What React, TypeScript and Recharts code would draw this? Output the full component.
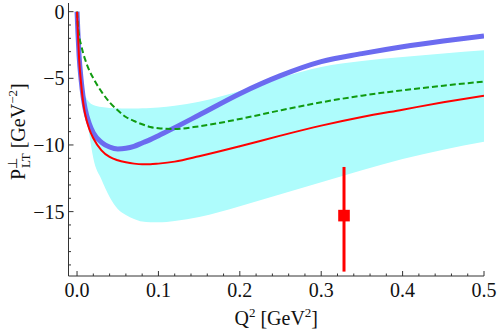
import {
  Area,
  ComposedChart,
  ErrorBar,
  Line,
  Scatter,
  XAxis,
  YAxis,
} from "recharts";

// Q^2 grid (GeV^2)
const q2 = [
  0, 0.001, 0.0025, 0.005, 0.0075, 0.01, 0.015, 0.02, 0.03, 0.04, 0.05, 0.06,
  0.07, 0.08, 0.09, 0.1, 0.12, 0.15, 0.2, 0.25, 0.3, 0.35, 0.4, 0.45, 0.5,
];
const redCurve = [
  0, -1.6, -3.5, -5.4, -6.8, -7.7, -8.8, -9.5, -10.4, -10.9, -11.15, -11.3,
  -11.4, -11.45, -11.45, -11.4, -11.25, -10.85, -10.1, -9.3, -8.55, -7.9,
  -7.35, -6.8, -6.3,
];
const blueCurve = [
  0, -1.5, -3.3, -5.1, -6.4, -7.3, -8.4, -9.1, -9.8, -10.15, -10.3, -10.25,
  -10.1, -9.85, -9.6, -9.3, -8.7, -7.75, -6.15, -4.8, -3.75, -3.15, -2.63,
  -2.2, -1.82,
];
const greenCurve = [
  0, -1.0, -1.8, -2.5, -3.1, -3.6, -4.4, -5.0, -6.0, -6.8, -7.4, -7.9, -8.2,
  -8.45, -8.65, -8.75, -8.8, -8.6, -8.05, -7.4, -6.8, -6.3, -5.9, -5.55,
  -5.25,
];
const bandLow = [
  null, null, null, null, null, -7.2, -9.2, -11.0, -12.6, -13.9, -14.8,
  -15.25, -15.55, -15.75, -15.8, -15.8, -15.7, -15.4, -14.6, -13.7, -12.8,
  -11.9, -11.05, -10.35, -9.75,
];
const bandHigh = [
  null, null, null, null, null, -6.3, -6.8, -7.0, -7.15, -7.22, -7.25, -7.27,
  -7.27, -7.25, -7.22, -7.18, -7.05, -6.75, -5.95, -4.95, -4.15, -3.7, -3.4,
  -3.13, -2.9,
];

// experimental point with asymmetric error [down, up]
const pointQ2 = [0.328];
const pointValue = [-15.3];
const pointError: [number, number][] = [[4.2, 3.65]];

const xTicks = [
  0, 0.02, 0.04, 0.06, 0.08, 0.1, 0.12, 0.14, 0.16, 0.18, 0.2, 0.22, 0.24,
  0.26, 0.28, 0.3, 0.32, 0.34, 0.36, 0.38, 0.4, 0.42, 0.44, 0.46, 0.48, 0.5,
];
const yTicks = [
  0, -1, -2, -3, -4, -5, -6, -7, -8, -9, -10, -11, -12, -13, -14, -15, -16,
  -17, -18, -19,
];

const data = q2.map((q, i) => ({
  q,
  red: redCurve[i],
  blue: blueCurve[i],
  green: greenCurve[i],
  band: bandLow[i] == null ? null : [bandLow[i], bandHigh[i]],
}));

const points = pointQ2.map((q, i) => ({
  q,
  p: pointValue[i],
  err: pointError[i],
}));

const FONT = "'Liberation Serif', 'Times New Roman', serif";
const FRAME = "#333";
const txt = { fontFamily: FONT, fontSize: 20, fill: "#111" };

const isMajorX = (v: number) => Math.abs(v * 10 - Math.round(v * 10)) < 1e-6;
const isMajorY = (v: number) => Math.abs(v / 5 - Math.round(v / 5)) < 1e-6;
const fmtY = (v: number) => (v < 0 ? "\u2212" + Math.abs(v) : String(v));

function XTick(props: any, top: boolean) {
  const { x, y, payload } = props;
  const major = isMajorX(payload.value);
  const len = major ? 5 : 2.5;
  return (
    <g>
      <line
        x1={x}
        x2={x}
        y1={y}
        y2={top ? y + len : y - len}
        stroke={FRAME}
        strokeWidth={1}
      />
      {!top && major && (
        <text x={x} y={y + 20.5} textAnchor="middle" style={txt}>
          {payload.value.toFixed(1)}
        </text>
      )}
    </g>
  );
}

function YTick(props: any, right: boolean) {
  const { x, y, payload } = props;
  const major = isMajorY(payload.value);
  const len = major ? 5 : 2.5;
  return (
    <g>
      <line
        x1={x}
        x2={right ? x - len : x + len}
        y1={y}
        y2={y}
        stroke={FRAME}
        strokeWidth={1}
      />
      {!right && major && (
        <text x={x - 4} y={y + 7} textAnchor="end" style={txt}>
          {fmtY(payload.value)}
        </text>
      )}
    </g>
  );
}

function XTitle(props: any) {
  const vb = props.viewBox;
  return (
    <text x={vb.x + vb.width / 2} y={325} textAnchor="middle" style={txt}>
      Q
      <tspan fontSize={13} dy={-8}>
        2
      </tspan>
      <tspan dy={8}> [GeV</tspan>
      <tspan fontSize={13} dy={-8}>
        2
      </tspan>
      <tspan dy={8}>]</tspan>
    </text>
  );
}

function YTitle() {
  const x0 = -48;
  return (
    <g transform="translate(25, 132) rotate(-90)">
      <text x={x0} y={0} style={txt}>
        P
        <tspan fontSize={13} dy={-8}>
          {"\u22A5"}
        </tspan>
        <tspan x={x0 + 12} fontSize={13} dy={13}>
          LT
        </tspan>
        <tspan dy={-5}> [GeV</tspan>
        <tspan fontSize={13} dy={-8}>
          {"\u22122"}
        </tspan>
        <tspan dy={8}>]</tspan>
      </text>
    </g>
  );
}

export default function App() {
  return (
    <div style={{ position: "absolute", left: 0, top: 0, fontFamily: FONT }}>
      <ComposedChart
        width={498}
        height={332}
        data={data}
        margin={{ top: 3, right: 14, bottom: 0, left: 0 }}
      >
        <XAxis
          dataKey="q"
          type="number"
          domain={[-0.0105, 0.5]}
          allowDataOverflow
          ticks={xTicks}
          interval={0}
          tickSize={0}
          tickMargin={0}
          tickLine={false}
          axisLine={{ stroke: FRAME, strokeWidth: 1 }}
          tick={(p: any) => XTick(p, false)}
          height={56}
          label={<XTitle />}
        />
        <XAxis
          xAxisId="top"
          orientation="top"
          dataKey="q"
          type="number"
          domain={[-0.0105, 0.5]}
          allowDataOverflow
          ticks={xTicks}
          interval={0}
          tickSize={0}
          tickMargin={0}
          tickLine={false}
          axisLine={{ stroke: FRAME, strokeWidth: 1 }}
          tick={(p: any) => XTick(p, true)}
          height={0}
        />
        <YAxis
          type="number"
          domain={[-19.83, 0.65]}
          allowDataOverflow
          ticks={yTicks}
          interval={0}
          tickSize={0}
          tickMargin={0}
          tickLine={false}
          axisLine={{ stroke: FRAME, strokeWidth: 1 }}
          tick={(p: any) => YTick(p, false)}
          width={68.5}
        />
        <YAxis
          yAxisId="right"
          orientation="right"
          type="number"
          domain={[-19.83, 0.65]}
          allowDataOverflow
          ticks={yTicks}
          interval={0}
          tickSize={0}
          tickMargin={0}
          tickLine={false}
          axisLine={{ stroke: FRAME, strokeWidth: 1 }}
          tick={(p: any) => YTick(p, true)}
          width={0}
        />
        <Area
          dataKey="band"
          type="monotone"
          stroke="none"
          fill="#aefcfc"
          fillOpacity={1}
          isAnimationActive={false}
        />
        <Line
          dataKey="blue"
          type="monotone"
          stroke="#6b6bf0"
          strokeWidth={5}
          dot={false}
          isAnimationActive={false}
        />
        <Line
          dataKey="green"
          type="monotone"
          stroke="#109a10"
          strokeWidth={2}
          strokeDasharray="6 3"
          dot={false}
          isAnimationActive={false}
        />
        <Line
          dataKey="red"
          type="monotone"
          stroke="#ff0000"
          strokeWidth={2}
          dot={false}
          isAnimationActive={false}
        />
        <Scatter
          data={points}
          dataKey="p"
          fill="#ff0000"
          isAnimationActive={false}
          shape={(p: any) => (
            <rect
              x={p.cx - 5.8}
              y={p.cy - 5.8}
              width={11.6}
              height={11.6}
              fill="#ff0000"
            />
          )}
        >
          <ErrorBar
            dataKey="err"
            direction="y"
            width={0}
            stroke="#ff0000"
            strokeWidth={3}
            isAnimationActive={false}
          />
        </Scatter>
        <YTitle />
      </ComposedChart>
    </div>
  );
}
